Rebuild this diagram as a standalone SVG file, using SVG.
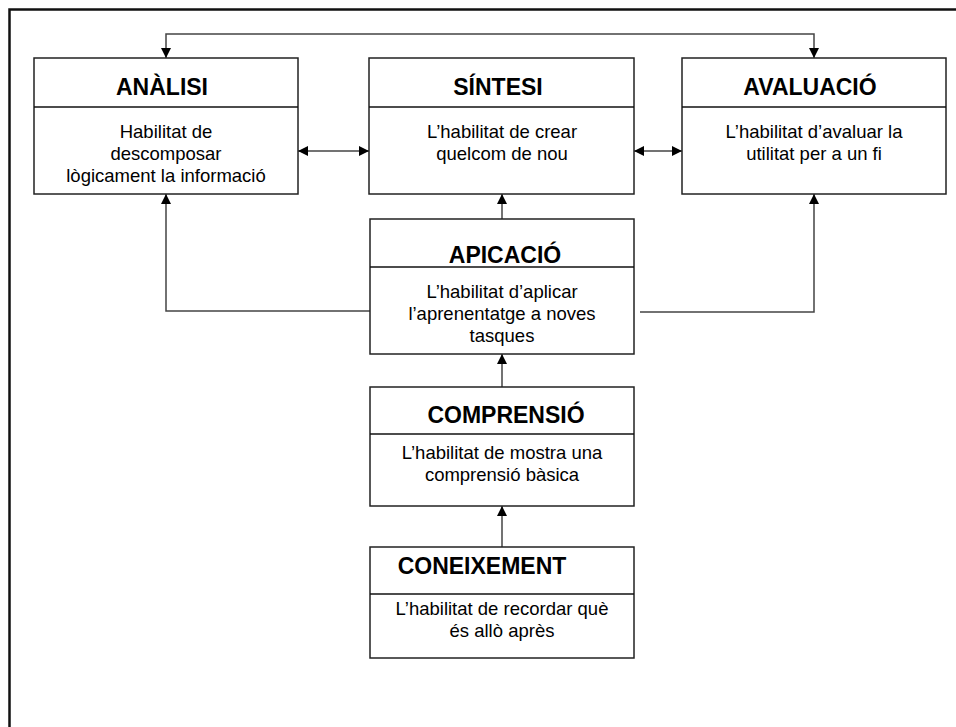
<svg xmlns="http://www.w3.org/2000/svg" width="956" height="727" viewBox="0 0 956 727">
  <style>
    .box { fill: #ffffff; stroke: #222222; stroke-width: 1.5; }
    .rule { stroke: #111111; stroke-width: 1.5; }
    .title { font-family: "Liberation Sans", Arial, sans-serif; font-weight: bold; font-size: 23px; fill: #000000; text-anchor: middle; }
    .body { font-family: "Liberation Sans", Arial, sans-serif; font-size: 18.5px; fill: #000000; text-anchor: middle; }
    .link { fill: none; stroke: #444444; stroke-width: 1.5; }
    .frame { fill: none; stroke: #111111; stroke-width: 2.5; }
  </style>
  <defs>
    <marker id="arrow" viewBox="0 0 10 10" refX="10" refY="5" markerWidth="10" markerHeight="10" markerUnits="userSpaceOnUse" orient="auto-start-reverse">
      <path d="M0,0 L10,5 L0,10 Z" fill="#000000"/>
    </marker>
  </defs>

  <rect width="956" height="727" fill="#ffffff"/>
  <!-- page frame: left and top edges -->
  <path class="frame" d="M9.5,727 V9.5 H956"/>

  <!-- connectors -->
  <g id="connectors">
    <path class="link" d="M166,58 V34 H814 V58" marker-start="url(#arrow)" marker-end="url(#arrow)"/>
    <path class="link" d="M298,151 H369" marker-start="url(#arrow)" marker-end="url(#arrow)"/>
    <path class="link" d="M634,151 H682" marker-start="url(#arrow)" marker-end="url(#arrow)"/>
    <path class="link" d="M370,311 H166 V194" marker-end="url(#arrow)"/>
    <path class="link" d="M502,219 V194" marker-end="url(#arrow)"/>
    <path class="link" d="M640,312 H814 V194" marker-end="url(#arrow)"/>
    <path class="link" d="M502,387 V354" marker-end="url(#arrow)"/>
    <path class="link" d="M502,547 V506" marker-end="url(#arrow)"/>
  </g>

  <g id="analisi">
    <rect class="box" x="34" y="58" width="264" height="136"/>
    <line class="rule" x1="34" y1="107" x2="298" y2="107"/>
    <text class="title" x="162" y="95">ANÀLISI</text>
    <text class="body" x="166" y="138">Habilitat de</text>
    <text class="body" x="166" y="160">descomposar</text>
    <text class="body" x="166" y="182">lògicament la informació</text>
  </g>

  <g id="sintesi">
    <rect class="box" x="369" y="58" width="265" height="136"/>
    <line class="rule" x1="369" y1="107" x2="634" y2="107"/>
    <text class="title" x="498" y="95">SÍNTESI</text>
    <text class="body" x="502" y="138">L’habilitat de crear</text>
    <text class="body" x="502" y="160">quelcom de nou</text>
  </g>

  <g id="avaluacio">
    <rect class="box" x="682" y="58" width="264" height="136"/>
    <line class="rule" x1="682" y1="107" x2="946" y2="107"/>
    <text class="title" x="810" y="95">AVALUACIÓ</text>
    <text class="body" x="814" y="138">L’habilitat d’avaluar la</text>
    <text class="body" x="814" y="160">utilitat per a un fi</text>
  </g>

  <g id="aplicacio">
    <rect class="box" x="370" y="219" width="264" height="135"/>
    <line class="rule" x1="370" y1="267" x2="634" y2="267"/>
    <text class="title" x="505" y="263">APICACIÓ</text>
    <text class="body" x="502" y="298">L’habilitat d’aplicar</text>
    <text class="body" x="502" y="320">l’aprenentatge a noves</text>
    <text class="body" x="502" y="342">tasques</text>
  </g>

  <g id="comprensio">
    <rect class="box" x="370" y="387" width="264" height="119"/>
    <line class="rule" x1="370" y1="434" x2="634" y2="434"/>
    <text class="title" x="506" y="423">COMPRENSIÓ</text>
    <text class="body" x="502" y="459">L’habilitat de mostra una</text>
    <text class="body" x="502" y="481">comprensió bàsica</text>
  </g>

  <g id="coneixement">
    <rect class="box" x="370" y="547" width="264" height="111"/>
    <line class="rule" x1="370" y1="594" x2="634" y2="594"/>
    <text class="title" x="482" y="574">CONEIXEMENT</text>
    <text class="body" x="502" y="615">L’habilitat de recordar què</text>
    <text class="body" x="502" y="637">és allò après</text>
  </g>
</svg>
